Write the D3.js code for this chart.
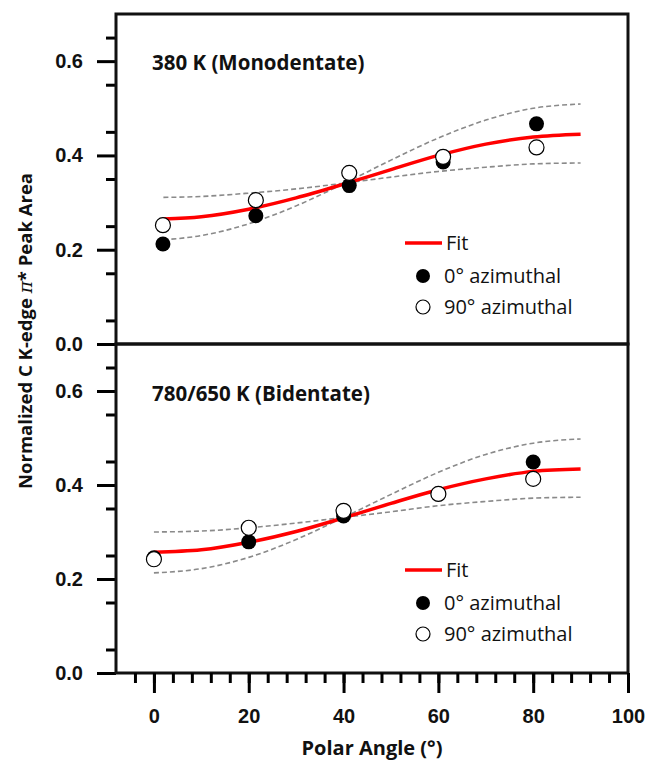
<!DOCTYPE html>
<html>
<head>
<meta charset="utf-8">
<script src="https://cdn.jsdelivr.net/npm/d3@7"></script>
<style>
  body { margin: 0; background: #fff; }
  svg { font-family: "Open Sans", Lato, sans-serif; }
</style>
</head>
<body>
<div id="chart"></div>
<script>
"use strict"

const WIDTH = 648;
const HEIGHT = 760;
const LEFT = 116, RIGHT = 628;
const AXIS_W = 3;

// polar angle samples for the fit curves
const fitAngles = [2, 10, 20, 30, 40, 50, 60, 70, 80, 90];
const fitAnglesB = [0, 10, 20, 30, 40, 50, 60, 70, 80, 90];

// 380 K (Monodentate)
const monoAngles = [1.9, 21.5, 41.2, 61, 80.7];
const mono0 = [0.212, 0.272, 0.336, 0.386, 0.467];
const mono90 = [0.252, 0.305, 0.363, 0.397, 0.417];
const monoFit = [0.265, 0.270, 0.286, 0.310, 0.339, 0.370, 0.400, 0.424, 0.439, 0.445];
const monoHi = [0.221, 0.230, 0.255, 0.293, 0.340, 0.390, 0.437, 0.475, 0.500, 0.509];
const monoLo = [0.311, 0.313, 0.320, 0.329, 0.341, 0.354, 0.366, 0.375, 0.382, 0.384];

// 780/650 K (Bidentate)
const biAngles = [0, 20, 40, 60, 80];
const bi0 = [0.245, 0.279, 0.334, 0.381, 0.449];
const bi90 = [0.242, 0.309, 0.345, 0.381, 0.413];
const biFit = [0.257, 0.262, 0.278, 0.301, 0.330, 0.361, 0.390, 0.413, 0.429, 0.434];
const biHi = [0.213, 0.222, 0.246, 0.284, 0.331, 0.380, 0.427, 0.465, 0.489, 0.498];
const biLo = [0.300, 0.302, 0.309, 0.319, 0.331, 0.343, 0.356, 0.365, 0.372, 0.374];

const xTicks = [0, 20, 40, 60, 80, 100];
const yTicks = [0, 0.2, 0.4, 0.6];

var svg = d3.select('#chart').append('svg')
	.attr('width', WIDTH)
	.attr('height', HEIGHT);

var x = d3.scaleLinear().domain([-8, 100]).range([LEFT, RIGHT]);

function zip(xs, ys) { return xs.map(function(v, i) { return [v, ys[i]]; }); }

function draw_panel(top, bottom, title, titleY, angles, s0, s90, fa, fit, hi, lo, legY)
{
	var y = d3.scaleLinear().domain([0, 0.7]).range([bottom, top]);
	var g = svg.append('g');

	// minor y ticks
	g.append('g')
		.attr('transform', 'translate(' + LEFT + ',0)')
		.call(d3.axisLeft(y).tickValues(d3.range(0.05, 0.7, 0.1)).tickSize(10).tickFormat(''))
		.call(function(a) { a.select('.domain').remove(); })
		.selectAll('line').attr('stroke-width', AXIS_W);

	// major y ticks
	var ya = g.append('g')
		.attr('transform', 'translate(' + LEFT + ',0)')
		.call(d3.axisLeft(y).tickValues(yTicks).tickSize(19).tickPadding(14).tickFormat(d3.format('.1f')));
	ya.select('.domain').remove();
	ya.selectAll('line').attr('stroke-width', AXIS_W);
	ya.selectAll('text').attr('font-size', 20).attr('font-weight', 'bold').attr('fill', '#111');

	var line = d3.line()
		.x(function(d) { return x(d[0]); })
		.y(function(d) { return y(d[1]); })
		.curve(d3.curveMonotoneX);

	[hi, lo].forEach(function(s) {
		g.append('path')
			.attr('d', line(zip(fa, s)))
			.attr('fill', 'none')
			.attr('stroke', '#8a8a8a')
			.attr('stroke-width', 1.6)
			.attr('stroke-dasharray', '5,3');
	});

	g.append('path')
		.attr('d', line(zip(fa, fit)))
		.attr('fill', 'none')
		.attr('stroke', '#ff0000')
		.attr('stroke-width', 3.5);

	g.selectAll('.p0').data(zip(angles, s0)).enter()
		.append('circle')
		.attr('cx', function(d) { return x(d[0]); })
		.attr('cy', function(d) { return y(d[1]); })
		.attr('r', 7.5)
		.attr('fill', '#000');

	g.selectAll('.p90').data(zip(angles, s90)).enter()
		.append('circle')
		.attr('cx', function(d) { return x(d[0]); })
		.attr('cy', function(d) { return y(d[1]); })
		.attr('r', 7.5)
		.attr('fill', '#fff')
		.attr('stroke', '#000')
		.attr('stroke-width', 1.2);

	// frame
	g.append('rect')
		.attr('x', LEFT).attr('y', top)
		.attr('width', RIGHT - LEFT).attr('height', bottom - top)
		.attr('fill', 'none').attr('stroke', '#111').attr('stroke-width', AXIS_W);

	g.append('text')
		.attr('x', 152).attr('y', titleY)
		.attr('font-size', 20.5).attr('font-weight', 'bold').attr('fill', '#111')
		.text(title);

	// legend
	var lg = g.append('g').attr('font-size', 20).attr('fill', '#111');
	lg.append('line')
		.attr('x1', 405).attr('x2', 442).attr('y1', legY).attr('y2', legY)
		.attr('stroke', '#ff0000').attr('stroke-width', 3.5);
	lg.append('text').attr('x', 446).attr('y', legY).attr('dy', '0.35em').text('Fit');
	lg.append('circle').attr('cx', 423).attr('cy', legY + 33).attr('r', 7).attr('fill', '#000');
	lg.append('text').attr('x', 444).attr('y', legY + 33).attr('dy', '0.35em').text('0° azimuthal');
	lg.append('circle').attr('cx', 423).attr('cy', legY + 64).attr('r', 7)
		.attr('fill', '#fff').attr('stroke', '#000').attr('stroke-width', 1.2);
	lg.append('text').attr('x', 444).attr('y', legY + 64).attr('dy', '0.35em').text('90° azimuthal');
}

draw_panel(14, 344, '380 K (Monodentate)', 70, monoAngles, mono0, mono90,
	fitAngles, monoFit, monoHi, monoLo, 243);
draw_panel(344, 673, '780/650 K (Bidentate)', 401, biAngles, bi0, bi90,
	fitAnglesB, biFit, biHi, biLo, 570);

// x axis, minor then major ticks
var xm = svg.append('g')
	.attr('transform', 'translate(0,673)')
	.call(d3.axisBottom(x).tickValues(d3.range(-4, 100, 4)).tickSize(10).tickFormat(''));
xm.select('.domain').remove();
xm.selectAll('line').attr('stroke-width', AXIS_W);

var xa = svg.append('g')
	.attr('transform', 'translate(0,673)')
	.call(d3.axisBottom(x).tickValues(xTicks).tickSize(20).tickPadding(16));
xa.select('.domain').remove();
xa.selectAll('line').attr('stroke-width', AXIS_W);
xa.selectAll('text').attr('font-size', 20).attr('font-weight', 'bold').attr('fill', '#111');

svg.append('text')
	.attr('x', x(46)).attr('y', 755)
	.attr('text-anchor', 'middle')
	.attr('font-size', 20).attr('font-weight', 'bold').attr('fill', '#111')
	.text('Polar Angle (°)');

var yl = svg.append('text')
	.attr('transform', 'translate(32,331) rotate(-90)')
	.attr('text-anchor', 'middle')
	.attr('font-size', 18.5).attr('font-weight', 'bold').attr('fill', '#111');
yl.append('tspan').text('Normalized C K-edge ');
yl.append('tspan').attr('font-family', '"DejaVu Serif", serif').attr('font-weight', 'normal').attr('font-style', 'italic').text('π');
yl.append('tspan').text('* Peak Area');
</script>
</body>
</html>
